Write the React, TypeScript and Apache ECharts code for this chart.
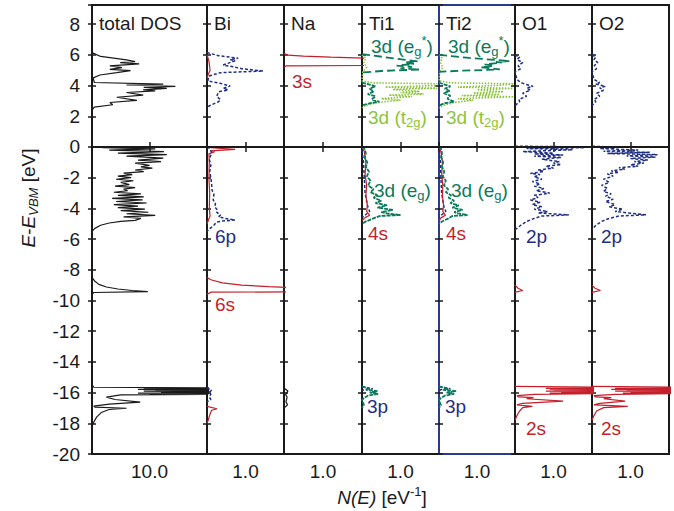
import React, { useEffect, useRef } from 'react';
import * as echarts from 'echarts';

const FONT = '"Liberation Sans", Arial, Helvetica, sans-serif';
const FS = 19;
const BLACK = '#1a1a1a';
const RED = '#c41f2b';
const BLUE = '#1e2e83';
const DGREEN = '#0a7a5a';
const LGREEN = '#8cc43c';
const TI2_BORDER = '#2a3a8e';

// ---------- axes / categories ----------
const panelNames = ['total DOS', 'Bi', 'Na', 'Ti1', 'Ti2', 'O1', 'O2'];
const panelXMax = [20, 2, 2, 2, 2, 2, 2];
const panelXTick = [10, 1, 1, 1, 1, 1, 1];
const panelXTickLabel = ['10.0', '1.0', '1.0', '1.0', '1.0', '1.0', '1.0'];
const energyMin = -20;
const energyMax = 9.25;
const energyStep = 2;

// ---------- data: [N(E), E] ----------
const totalCB = [[0,6.15],[1.5,5.9],[6.0,5.68],[7.5,5.56],[4.9,5.5],[8.2,5.41],[3.1,5.28],[5.2,5.17],[3.1,5.06],[6.7,4.97],[4.3,4.84],[1.4,4.69],[0.2,4.5],[0.4,4.2],[12.4,4.1],[6,4.04],[14.5,3.95],[9,3.88],[13,3.82],[8.9,3.72],[11,3.66],[6.0,3.55],[8.9,3.38],[4.3,3.24],[7.8,3.04],[3.1,2.9],[3.6,2.75],[0.4,2.6],[0,2.4]];
const totalVB = [[0,0.05],[2,-0.05],[11,-0.12],[3,-0.2],[12.5,-0.3],[4.5,-0.4],[13,-0.5],[6,-0.6],[12.4,-0.72],[8,-0.85],[12,-0.95],[7.5,-1.05],[10,-1.2],[8.5,-1.3],[10.5,-1.38],[7.5,-1.5],[9,-1.6],[5.5,-1.7],[7,-1.8],[4.5,-1.9],[6.8,-2.0],[4.2,-2.1],[7.2,-2.2],[5,-2.3],[6.5,-2.45],[4,-2.55],[7.5,-2.65],[5.5,-2.75],[6.2,-2.85],[3.8,-2.95],[8.5,-3.05],[4.5,-3.15],[9,-3.25],[3.5,-3.35],[8.8,-3.45],[4.2,-3.55],[9.5,-3.65],[3.8,-3.75],[8,-3.85],[4.5,-3.95],[9.2,-4.05],[5,-4.15],[9.8,-4.25],[6,-4.35],[11,-4.45],[5.5,-4.55],[8.5,-4.65],[7.5,-4.78],[5,-4.85],[3,-4.95],[1.5,-5.1],[0.5,-5.3],[0,-5.5]];
const totalBi6s = [[0,-8.5],[0.5,-8.75],[1.2,-8.95],[2.5,-9.12],[4.5,-9.25],[7,-9.35],[9.7,-9.42],[0.3,-9.48],[0,-9.6]];
const totalSemi = [[0,-15.5],[0.3,-15.65],[22,-15.7],[9,-15.73],[24,-15.76],[8,-15.79],[25,-15.82],[11,-15.85],[25,-15.88],[9,-15.91],[25,-15.94],[12,-15.97],[24,-16.0],[8,-16.03],[22,-16.06],[10,-16.09],[20,-16.12],[5,-16.15],[2.5,-16.3],[4,-16.45],[8.4,-16.62],[3,-16.75],[0.3,-16.88],[0.5,-16.95],[6.0,-17.02],[3,-17.1],[1.6,-17.3],[0.8,-17.6],[0.2,-18.0],[0,-18.2]];

const bi6pCB = [[0,6.15],[0.3,5.95],[0.81,5.78],[0.6,5.7],[0.73,5.62],[0.42,5.34],[0.68,5.23],[0.9,5.1],[1.46,4.95],[0.34,4.84],[0.05,4.62],[0.02,4.3],[0.34,4.15],[0.6,3.97],[0.42,3.82],[0.55,3.72],[0.3,3.6],[0.25,3.28],[0.35,3.1],[0.3,2.95],[0.05,2.67],[0,2.5]];
const bi6sCB = [[0,6.0],[0.05,5.6],[0.08,5.0],[0.03,4.7],[0,4.5]];
const bi6pVB = [[0,0],[0.08,-0.1],[0.12,-0.4],[0.06,-0.8],[0.1,-1.2],[0.07,-1.6],[0.1,-2.0],[0.12,-2.4],[0.13,-2.8],[0.18,-3.1],[0.16,-3.45],[0.22,-3.7],[0.2,-3.9],[0.27,-4.1],[0.25,-4.25],[0.35,-4.43],[0.3,-4.55],[0.45,-4.64],[0.73,-4.76],[0.4,-4.82],[0.25,-4.9],[0.16,-5.15],[0.08,-5.3],[0,-5.5]];
const bi6sVB = [[0,0.05],[0.1,-0.05],[0.73,-0.15],[0.1,-0.25],[0.2,-0.3],[0.05,-0.45],[0.06,-1],[0.05,-2],[0.07,-3],[0.06,-4],[0.08,-4.5],[0,-5]];
const bi6sPeak = [[0,-8.5],[0.1,-8.65],[0.4,-8.85],[0.9,-9.0],[1.6,-9.1],[2.5,-9.2],[4,-9.3],[6,-9.4],[0.1,-9.46],[0,-9.6]];
const bi5dSemi = [[0,-16.9],[0.26,-17.05],[0.12,-17.15],[0.08,-17.4],[0.03,-17.8],[0,-18]];
const bi6pSemi = [[0,-15.7],[0.12,-15.85],[0.05,-16.0],[0.1,-16.1],[0.06,-16.3],[0.1,-16.45],[0,-16.6]];

const na3sCB = [[0,6.1],[0.1,5.98],[0.5,5.92],[1.2,5.85],[2.5,5.75],[5,5.5],[3,5.32],[0.05,5.28],[0,5.2]];
const naSemi = [[0,-15.7],[0.1,-15.9],[0.04,-16.1],[0.08,-16.3],[0.05,-16.6],[0.09,-16.8],[0,-17]];

const ti1EgStar = [[0,6.05],[0.6,5.85],[1.45,5.58],[1.1,5.5],[1.35,5.42],[0.9,5.3],[1.3,5.22],[1.0,5.12],[1.5,5.05],[0.5,4.95],[0,4.85]];
const ti1EgLow = [[0,4.2],[0.15,4.1],[0.35,3.95],[0.2,3.8],[0.3,3.6],[0.15,3.45],[0.35,3.3],[0.25,3.1],[0.45,2.95],[0.2,2.85],[0,2.7]];
const ti1T2g = [[0,6],[0.1,5.8],[0.05,5.5],[0.12,5.2],[0.02,4.9],[0,4.3],[0.3,4.18],[1.95,4.12],[1.9,4.0],[0.6,3.9],[1.95,3.83],[0.8,3.75],[1.5,3.62],[1.0,3.55],[1.6,3.45],[0.7,3.38],[1.3,3.28],[0.5,3.15],[1.0,3.05],[0.4,2.9],[0.1,2.7],[0,2.55]];
const ti1EgVB = [[0,0],[0.06,-0.1],[0.1,-0.4],[0.07,-0.7],[0.14,-1.0],[0.1,-1.3],[0.18,-1.6],[0.13,-1.9],[0.22,-2.2],[0.16,-2.5],[0.3,-2.75],[0.22,-2.95],[0.4,-3.15],[0.3,-3.3],[0.5,-3.5],[0.35,-3.65],[0.65,-3.8],[0.4,-3.95],[0.8,-4.1],[0.5,-4.25],[0.65,-4.33],[1.0,-4.43],[0.45,-4.5],[0.3,-4.65],[0.1,-4.85],[0,-5.0]];
const ti1SVB = [[0,0],[0.06,-0.3],[0.1,-1],[0.08,-1.8],[0.12,-2.5],[0.1,-3.2],[0.14,-3.8],[0.12,-4.2],[0.2,-4.45],[0.08,-4.6],[0,-4.8]];
const ti1PVB = [[0,-0.2],[0.04,-1],[0.06,-2],[0.08,-3],[0.15,-3.9],[0.2,-4.2],[0.1,-4.4],[0,-4.6]];
const ti1PSemi = [[0,-15.6],[0.2,-15.75],[0.1,-15.82],[0.4,-15.9],[0.2,-16.0],[0.42,-16.08],[0.15,-16.2],[0.05,-16.35],[0,-16.5],[0.05,-16.8],[0,-17]];
const ti1PSemiBlue = [[0,-15.6],[0.28,-15.75],[0.05,-15.8],[0,-15.9]];

const ti2EgStar = [[0,6.0],[0.8,5.8],[1.87,5.6],[1.5,5.55],[1.65,5.5],[1.2,5.38],[1.45,5.3],[1.1,5.2],[1.6,5.05],[0.6,4.97],[0,4.9]];
const ti2EgLow = [[0,4.2],[0.1,4.1],[0.3,3.95],[0.15,3.8],[0.28,3.65],[0.12,3.5],[0.3,3.35],[0.22,3.15],[0.4,2.95],[0.15,2.85],[0,2.7]];
const ti2T2g = [[0,6],[0.08,5.8],[0.04,5.5],[0.1,5.2],[0.02,4.9],[0,4.3],[0.3,4.18],[1.97,4.12],[1.6,4.02],[0.5,3.9],[1.95,3.82],[1.0,3.72],[1.7,3.6],[0.9,3.52],[1.6,3.42],[0.6,3.35],[1.97,3.27],[0.5,3.15],[0.9,3.05],[0.4,2.9],[0.1,2.7],[0,2.55]];
const ti2EgVB = [[0,0],[0.05,-0.1],[0.08,-0.4],[0.06,-0.7],[0.11,-1.0],[0.08,-1.3],[0.14,-1.6],[0.1,-1.9],[0.18,-2.2],[0.13,-2.5],[0.24,-2.75],[0.18,-2.95],[0.32,-3.15],[0.25,-3.3],[0.4,-3.5],[0.3,-3.65],[0.52,-3.8],[0.35,-3.95],[0.62,-4.1],[0.4,-4.25],[0.5,-4.33],[0.75,-4.43],[0.35,-4.5],[0.25,-4.65],[0.08,-4.85],[0,-5.0]];
const ti2SVB = [[0,0],[0.05,-0.3],[0.09,-1],[0.07,-1.8],[0.1,-2.5],[0.09,-3.2],[0.12,-3.8],[0.1,-4.2],[0.17,-4.45],[0.06,-4.6],[0,-4.8]];
const ti2PVB = [[0,-0.2],[0.04,-1],[0.05,-2],[0.07,-3],[0.13,-3.9],[0.18,-4.2],[0.08,-4.4],[0,-4.6]];
const ti2PSemi = [[0,-15.6],[0.25,-15.75],[0.1,-15.82],[0.45,-15.9],[0.2,-16.0],[0.4,-16.08],[0.15,-16.2],[0.05,-16.35],[0,-16.5],[0.05,-16.8],[0,-17]];
const ti2PSemiBlue = [[0,-15.6],[0.3,-15.75],[0.05,-15.8],[0,-15.9]];

const o1CB = [[0,6.0],[0.12,5.85],[0.05,5.7],[0.2,5.5],[0.08,5.3],[0.15,5.1],[0,4.9],[0.05,4.4],[0.15,4.2],[0.25,4.1],[0.47,3.95],[0.3,3.85],[0.4,3.7],[0.2,3.5],[0.3,3.3],[0.1,3.1],[0.12,2.95],[0,2.7]];
const o1VB = [[0,0.05],[1.2,0.02],[1.8,-0.05],[0.3,-0.1],[1.5,-0.18],[0.2,-0.3],[1.0,-0.4],[0.5,-0.45],[1.25,-0.52],[0.5,-0.6],[1.2,-0.68],[0.7,-0.8],[1.15,-0.95],[1.0,-1.05],[1.2,-1.15],[0.8,-1.25],[1.0,-1.38],[0.6,-1.5],[0.75,-1.6],[0.4,-1.72],[0.65,-1.8],[0.5,-1.95],[0.7,-2.1],[0.45,-2.25],[0.65,-2.4],[0.5,-2.55],[0.75,-2.7],[0.55,-2.85],[0.9,-3.0],[0.5,-3.15],[0.6,-3.3],[0.4,-3.45],[0.65,-3.6],[0.45,-3.75],[0.7,-3.9],[0.5,-4.05],[0.85,-4.2],[0.6,-4.3],[1.4,-4.42],[0.7,-4.5],[0.5,-4.65],[0.3,-4.85],[0.15,-5.1],[0,-5.4]];
const o1SMid = [[0,-9.0],[0.08,-9.2],[0.2,-9.35],[0.02,-9.45],[0,-9.5]];
const o1Semi = [[0,-15.6],[2.5,-15.66],[3,-15.7],[0.8,-15.73],[3,-15.76],[0.9,-15.79],[3,-15.82],[1.0,-15.85],[3,-15.88],[0.8,-15.91],[3,-15.94],[1.2,-15.97],[3,-16.0],[0.9,-16.03],[2.2,-16.06],[0.5,-16.12],[0.05,-16.2],[0.1,-16.28],[0.48,-16.33],[0.3,-16.4],[1.25,-16.55],[0.2,-16.7],[0.05,-16.8],[0.45,-16.9],[0.2,-16.98],[0.12,-17.2],[0.05,-17.5],[0,-17.8]];

const o2CB = [[0,6.0],[0.1,5.85],[0.05,5.7],[0.15,5.5],[0.06,5.3],[0.12,5.1],[0,4.9],[0.05,4.4],[0.2,4.2],[0.1,4.1],[0.35,3.95],[0.2,3.85],[0.3,3.7],[0.12,3.5],[0.2,3.3],[0.05,3.1],[0.1,2.95],[0,2.7]];
const o2VB = [[0,0.05],[0.3,0.02],[0.6,-0.05],[0.2,-0.1],[1.2,-0.2],[0.3,-0.28],[1.5,-0.35],[0.4,-0.42],[1.7,-0.5],[0.9,-0.58],[1.65,-0.65],[1.0,-0.75],[1.45,-0.85],[1.1,-0.95],[1.35,-1.05],[1.0,-1.15],[1.2,-1.25],[0.7,-1.35],[0.85,-1.45],[0.5,-1.55],[0.7,-1.65],[0.4,-1.75],[0.55,-1.9],[0.3,-2.1],[0.45,-2.3],[0.25,-2.5],[0.4,-2.7],[0.3,-2.9],[0.5,-3.05],[0.35,-3.2],[0.55,-3.4],[0.35,-3.55],[0.6,-3.75],[0.45,-3.9],[0.8,-4.05],[0.6,-4.2],[1.4,-4.42],[0.7,-4.5],[0.45,-4.65],[0.25,-4.85],[0.1,-5.1],[0,-5.4]];
const o2SMid = [[0,-9.0],[0.08,-9.2],[0.22,-9.35],[0.02,-9.45],[0,-9.5]];
const o2Semi = [[0,-15.6],[2.5,-15.66],[3,-15.7],[0.6,-15.73],[3,-15.76],[0.5,-15.79],[3,-15.82],[0.9,-15.85],[3,-15.88],[0.6,-15.91],[3,-15.94],[1.0,-15.97],[3,-16.0],[0.8,-16.03],[2.4,-16.06],[0.6,-16.12],[0.05,-16.2],[0.1,-16.28],[0.5,-16.33],[0.3,-16.4],[0.86,-16.55],[0.2,-16.7],[0.05,-16.8],[0.93,-16.9],[0.3,-16.98],[0.12,-17.2],[0.05,-17.5],[0,-17.8]];

// ---------- styles ----------
const SOLID = { type: 'solid', width: 1.2 };
const BLUEDASH = { type: [3, 2], width: 1.5 };
const EGDASH = { type: [8, 4], width: 1.8 };
const EGVB = { type: [4, 1], width: 1.8 };
const T2G = { type: [1.5, 1.5], width: 1.6 };

type Curve = { p: number; d: number[][]; c: string; s: any };
const curves: Curve[] = [
  { p: 0, d: totalCB, c: BLACK, s: SOLID },
  { p: 0, d: totalVB, c: BLACK, s: SOLID },
  { p: 0, d: totalBi6s, c: BLACK, s: SOLID },
  { p: 0, d: totalSemi, c: BLACK, s: SOLID },
  { p: 1, d: bi6sCB, c: RED, s: SOLID },
  { p: 1, d: bi6sVB, c: RED, s: SOLID },
  { p: 1, d: bi6sPeak, c: RED, s: SOLID },
  { p: 1, d: bi5dSemi, c: RED, s: SOLID },
  { p: 1, d: bi6pCB, c: BLUE, s: BLUEDASH },
  { p: 1, d: bi6pVB, c: BLUE, s: BLUEDASH },
  { p: 1, d: bi6pSemi, c: BLUE, s: BLUEDASH },
  { p: 2, d: na3sCB, c: RED, s: SOLID },
  { p: 2, d: naSemi, c: BLACK, s: SOLID },
  { p: 3, d: ti1T2g, c: LGREEN, s: T2G },
  { p: 3, d: ti1EgStar, c: DGREEN, s: EGDASH },
  { p: 3, d: ti1EgLow, c: DGREEN, s: EGVB },
  { p: 3, d: ti1PVB, c: BLUE, s: BLUEDASH },
  { p: 3, d: ti1SVB, c: RED, s: SOLID },
  { p: 3, d: ti1EgVB, c: DGREEN, s: EGVB },
  { p: 3, d: ti1PSemiBlue, c: BLUE, s: BLUEDASH },
  { p: 3, d: ti1PSemi, c: DGREEN, s: EGVB },
  { p: 4, d: ti2T2g, c: LGREEN, s: T2G },
  { p: 4, d: ti2EgStar, c: DGREEN, s: EGDASH },
  { p: 4, d: ti2EgLow, c: DGREEN, s: EGVB },
  { p: 4, d: ti2PVB, c: BLUE, s: BLUEDASH },
  { p: 4, d: ti2SVB, c: RED, s: SOLID },
  { p: 4, d: ti2EgVB, c: DGREEN, s: EGVB },
  { p: 4, d: ti2PSemiBlue, c: BLUE, s: BLUEDASH },
  { p: 4, d: ti2PSemi, c: DGREEN, s: EGVB },
  { p: 5, d: o1CB, c: BLUE, s: BLUEDASH },
  { p: 5, d: o1VB, c: BLUE, s: BLUEDASH },
  { p: 5, d: o1SMid, c: RED, s: SOLID },
  { p: 5, d: o1Semi, c: RED, s: SOLID },
  { p: 6, d: o2CB, c: BLUE, s: BLUEDASH },
  { p: 6, d: o2VB, c: BLUE, s: BLUEDASH },
  { p: 6, d: o2SMid, c: RED, s: SOLID },
  { p: 6, d: o2Semi, c: RED, s: SOLID },
];

// ---------- layout ----------
const EDGES = [92, 207, 284, 362, 439, 515, 592, 669];
const TOP = 5;
const BOTTOM = 454;

type Lab = { x: number; y: number; c: string; main: string; sub?: string; star?: boolean };
const orbitalLabels: Lab[] = [
  { x: 215, y: 236, c: BLUE, main: '6p' },
  { x: 215, y: 304, c: RED, main: '6s' },
  { x: 292, y: 81, c: RED, main: '3s' },
  { x: 371, y: 46, c: DGREEN, main: '3d (e', sub: 'g', star: true },
  { x: 448, y: 46, c: DGREEN, main: '3d (e', sub: 'g', star: true },
  { x: 368, y: 117, c: LGREEN, main: '3d (t', sub: '2g' },
  { x: 446, y: 117, c: LGREEN, main: '3d (t', sub: '2g' },
  { x: 374, y: 190, c: DGREEN, main: '3d (e', sub: 'g' },
  { x: 451, y: 190, c: DGREEN, main: '3d (e', sub: 'g' },
  { x: 368, y: 233, c: RED, main: '4s' },
  { x: 446, y: 233, c: RED, main: '4s' },
  { x: 526, y: 236, c: BLUE, main: '2p' },
  { x: 601, y: 236, c: BLUE, main: '2p' },
  { x: 367, y: 406, c: BLUE, main: '3p' },
  { x: 445, y: 406, c: BLUE, main: '3p' },
  { x: 526, y: 428, c: RED, main: '2s' },
  { x: 601, y: 428, c: RED, main: '2s' },
];

function richFor(color: string) {
  return {
    m: { fontSize: FS, fontFamily: FONT, fill: color, lineHeight: 24 },
    s: { fontSize: 13, fontFamily: FONT, fill: color, lineHeight: 12, verticalAlign: 'bottom' },
    i: { fontSize: FS, fontFamily: FONT, fontStyle: 'italic', fill: color, lineHeight: 24 },
    si: { fontSize: 13, fontFamily: FONT, fontStyle: 'italic', fill: color, lineHeight: 12, verticalAlign: 'bottom' },
    p: { fontSize: 13, fontFamily: FONT, fill: color, lineHeight: 12, verticalAlign: 'top' },
  };
}

function buildOption() {
  const n = panelNames.length;
  const grid: any[] = [];
  const xAxis: any[] = [];
  const yAxis: any[] = [];
  const tickStyle = { color: BLACK, width: 1.5 };
  for (let i = 0; i < n; i++) {
    grid.push({
      left: EDGES[i], top: TOP, width: EDGES[i + 1] - EDGES[i], height: BOTTOM - TOP,
      show: true, borderColor: i === 4 ? TI2_BORDER : BLACK, borderWidth: 2,
      backgroundColor: 'transparent', containLabel: false, outerBoundsMode: 'none',
    });
    const tick = panelXTick[i];
    const lbl = panelXTickLabel[i];
    const xBase = {
      gridIndex: i, type: 'value', min: 0, max: panelXMax[i], interval: tick,
      axisLine: { show: false }, splitLine: { show: false },
      axisTick: { inside: true, length: 5, lineStyle: tickStyle },
    };
    xAxis.push({
      ...xBase, position: 'bottom',
      axisLabel: {
        formatter: (v: number) => (Math.abs(v - tick) < 1e-9 ? lbl : ''),
        fontSize: FS, fontFamily: FONT, color: BLACK, margin: 8,
      },
    });
    xAxis.push({ ...xBase, position: 'top', axisLabel: { show: false } });
    const yBase = {
      gridIndex: i, type: 'value', min: energyMin, max: energyMax, interval: energyStep,
      axisLine: { show: false }, splitLine: { show: false },
      axisTick: { inside: true, length: 4, lineStyle: tickStyle },
    };
    yAxis.push({
      ...yBase, position: 'left',
      axisLabel: {
        show: i === 0,
        formatter: (v: number) => (Number.isInteger(v) && v % 2 === 0 ? String(v) : ''),
        fontSize: FS, fontFamily: FONT, color: BLACK, margin: 12,
      },
    });
    yAxis.push({ ...yBase, position: 'right', axisLabel: { show: false } });
  }

  const seen = new Set<number>();
  const series = curves.map((cv) => {
    const s: any = {
      type: 'line', xAxisIndex: 2 * cv.p, yAxisIndex: 2 * cv.p,
      data: cv.d.map(([v, e]) => [v, e]),
      showSymbol: false, symbol: 'none', silent: true, clip: true, z: 3,
      lineStyle: { color: cv.c, width: cv.s.width, type: cv.s.type },
    };
    if (!seen.has(cv.p)) {
      seen.add(cv.p);
      s.markLine = {
        silent: true, symbol: ['none', 'none'], label: { show: false },
        lineStyle: { color: BLACK, width: 2, type: 'solid' },
        data: [{ yAxis: 0 }], z: 5,
      };
    }
    return s;
  });

  const graphic: any[] = [];
  panelNames.forEach((name, i) => {
    graphic.push({
      type: 'text', x: EDGES[i] + 7, y: 23, z: 10,
      style: { text: name, fill: BLACK, font: `${FS}px ${FONT}`, align: 'left', verticalAlign: 'middle' },
    });
  });
  orbitalLabels.forEach((l) => {
    let text = `{m|${l.main}}`;
    if (l.sub) text = `{m|${l.main}}{s|${l.sub}}${l.star ? '{p|*}' : ''}{m|)}`;
    graphic.push({
      type: 'text', x: l.x, y: l.y, z: 10,
      style: { text, rich: richFor(l.c), fill: l.c, font: `${FS}px ${FONT}`, align: 'left', verticalAlign: 'middle' },
    });
  });
  graphic.push({
    type: 'text', x: 28, y: 198, rotation: Math.PI / 2, z: 10,
    style: {
      text: '{i|E}{m|-}{i|E}{si|VBM}{m| [eV]}', rich: richFor(BLACK), fill: BLACK,
      font: `${FS}px ${FONT}`, align: 'center', verticalAlign: 'middle',
    },
  });
  graphic.push({
    type: 'text', x: 382, y: 497, z: 10,
    style: {
      text: '{i|N(E)}{m| [eV}{p|-1}{m|]}', rich: richFor(BLACK), fill: BLACK,
      font: `${FS}px ${FONT}`, align: 'center', verticalAlign: 'middle',
    },
  });

  return { animation: false, backgroundColor: '#ffffff', grid, xAxis, yAxis, series, graphic };
}

export default function App() {
  const ref = useRef<HTMLDivElement>(null);
  useEffect(() => {
    if (!ref.current) return;
    const chart = echarts.init(ref.current, undefined, { renderer: 'svg' });
    chart.setOption(buildOption() as any);
    return () => chart.dispose();
  }, []);
  return (
    <div
      ref={ref}
      style={{ position: 'fixed', left: 0, top: 0, width: 674, height: 511, background: '#fff' }}
    />
  );
}
